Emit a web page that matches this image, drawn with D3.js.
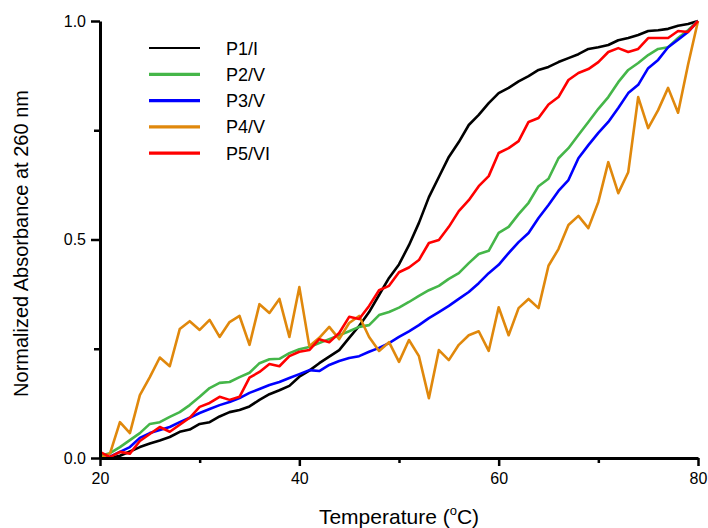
<!DOCTYPE html>
<html>
<head>
<meta charset="utf-8">
<script src="https://cdn.jsdelivr.net/npm/d3@7"></script>
<style>
  body { margin: 0; background: #fff; }
  svg { font-family: "Liberation Sans", Arial, sans-serif; }
</style>
</head>
<body>
<svg id="chart"></svg>
<script>
// temperatures (°C)
const temps = [20,21,22,23,24,25,26,27,28,29,30,31,32,33,34,35,36,37,38,39,40,
  41,42,43,44,45,46,47,48,49,50,51,52,53,54,55,56,57,58,59,60,
  61,62,63,64,65,66,67,68,69,70,71,72,73,74,75,76,77,78,79,80];

const p1 = [0.0,0.0,0.005,0.015,0.025,0.033,0.04,0.048,0.06,0.065,0.078,
  0.082,0.095,0.105,0.11,0.118,0.133,0.146,0.155,0.165,0.186,
  0.2,0.217,0.232,0.247,0.275,0.302,0.334,0.373,0.412,0.443,
  0.487,0.538,0.597,0.643,0.689,0.723,0.762,0.785,0.812,0.835,
  0.847,0.862,0.874,0.888,0.895,0.906,0.915,0.924,0.936,0.94,
  0.945,0.956,0.961,0.968,0.977,0.979,0.982,0.989,0.993,1.0];

const p2 = [0.005,0.011,0.025,0.041,0.057,0.078,0.082,0.094,0.105,0.121,0.14,
  0.16,0.172,0.174,0.185,0.195,0.217,0.226,0.227,0.24,0.249,
  0.254,0.263,0.272,0.281,0.29,0.3,0.304,0.327,0.334,0.344,
  0.357,0.371,0.384,0.394,0.41,0.423,0.446,0.467,0.474,0.515,
  0.529,0.558,0.584,0.622,0.639,0.686,0.709,0.739,0.769,0.799,
  0.826,0.86,0.888,0.904,0.922,0.936,0.94,0.961,0.979,1.0];

const p3 = [0.0,0.003,0.014,0.025,0.046,0.057,0.064,0.071,0.082,0.092,0.103,
  0.112,0.121,0.128,0.137,0.149,0.158,0.167,0.174,0.183,0.192,
  0.201,0.199,0.213,0.222,0.229,0.233,0.243,0.252,0.263,0.277,
  0.29,0.304,0.32,0.334,0.348,0.364,0.38,0.4,0.423,0.442,
  0.469,0.494,0.515,0.549,0.579,0.611,0.636,0.686,0.716,0.744,
  0.769,0.801,0.835,0.854,0.892,0.911,0.94,0.957,0.975,1.0];

const p4 = [0.0,0.01,0.082,0.057,0.144,0.185,0.23,0.21,0.295,0.313,0.293,
  0.316,0.277,0.311,0.325,0.259,0.352,0.332,0.364,0.277,0.391,
  0.256,0.275,0.3,0.272,0.309,0.325,0.277,0.245,0.265,0.22,
  0.27,0.233,0.137,0.247,0.224,0.259,0.281,0.29,0.245,0.345,
  0.281,0.343,0.364,0.343,0.44,0.478,0.533,0.554,0.526,0.586,
  0.677,0.606,0.654,0.826,0.755,0.796,0.847,0.79,0.9,1.0];

const p5 = [0.014,0.002,0.014,0.01,0.039,0.055,0.071,0.06,0.076,0.092,0.117,
  0.126,0.14,0.133,0.14,0.184,0.197,0.215,0.21,0.233,0.243,
  0.247,0.272,0.265,0.286,0.323,0.318,0.348,0.384,0.394,0.425,
  0.436,0.453,0.492,0.499,0.529,0.565,0.59,0.622,0.645,0.698,
  0.709,0.725,0.769,0.778,0.809,0.826,0.865,0.881,0.89,0.906,
  0.929,0.938,0.929,0.936,0.961,0.961,0.961,0.977,0.975,1.0];

const seriesNames = ["P1/I", "P2/V", "P3/V", "P4/V", "P5/VI"];
const seriesColors = ["#000000", "#45b649", "#0000ff", "#e0880c", "#ff0000"];
const seriesValues = [p1, p2, p3, p4, p5];

const xTicks = [20, 40, 60, 80];
const xMinorTicks = [30, 50, 70];
const yTicks = [0, 0.5, 1.0];
const yMinorTicks = [0.25, 0.75];

const width = 708, height = 528;
const margin = { top: 21, right: 10, bottom: 70, left: 100 };
const w = width - margin.left - margin.right;
const h = height - margin.top - margin.bottom;

const svg = d3.select('#chart')
  .attr('width', width)
  .attr('height', height);

const g = svg.append('g')
  .attr('transform', `translate(${margin.left},${margin.top})`);

const xScale = d3.scaleLinear().domain([20, 80]).range([0, w]);
const yScale = d3.scaleLinear().domain([0, 1]).range([h, 0]);

// data lines
const line = d3.line()
  .x((d, i) => xScale(temps[i]))
  .y(d => yScale(d))
  .curve(d3.curveLinear);

seriesValues.forEach((vals, k) => {
  g.append('path')
    .datum(vals)
    .attr('fill', 'none')
    .attr('stroke', seriesColors[k])
    .attr('stroke-width', 2.6)
    .attr('stroke-linejoin', 'round')
    .attr('d', line);
});

// minor ticks
g.append('g')
  .attr('transform', `translate(0,${h})`)
  .call(d3.axisBottom(xScale).tickValues(xMinorTicks).tickSize(5).tickFormat(''))
  .call(a => a.select('.domain').remove())
  .selectAll('line').attr('stroke-width', 2.5);

g.append('g')
  .call(d3.axisLeft(yScale).tickValues(yMinorTicks).tickSize(6).tickFormat(''))
  .call(a => a.select('.domain').remove())
  .selectAll('line').attr('stroke-width', 2.5);

// x-axis
const xAxis = g.append('g')
  .attr('transform', `translate(0,${h})`)
  .call(d3.axisBottom(xScale).tickValues(xTicks).tickSize(8).tickSizeOuter(0).tickPadding(7));
xAxis.select('.domain').attr('stroke-width', 3);
xAxis.selectAll('.tick line').attr('stroke-width', 2.5);
xAxis.selectAll('text').attr('font-size', 16).attr('fill', '#000')
  .style('font-family', '"Liberation Sans", Arial, sans-serif');

// y-axis
const yAxis = g.append('g')
  .call(d3.axisLeft(yScale).tickValues(yTicks).tickSize(9).tickSizeOuter(0).tickPadding(5)
    .tickFormat(d3.format('.1f')));
yAxis.select('.domain').attr('stroke-width', 3);
yAxis.selectAll('.tick line').attr('stroke-width', 2.5);
yAxis.selectAll('text').attr('font-size', 16).attr('fill', '#000')
  .style('font-family', '"Liberation Sans", Arial, sans-serif');

// axis titles
const xTitle = svg.append('text')
  .attr('x', margin.left + w / 2)
  .attr('y', 524)
  .attr('text-anchor', 'middle')
  .attr('font-size', 21);
xTitle.append('tspan').text('Temperature (');
xTitle.append('tspan').attr('font-size', 13).attr('dy', -9).text('o');
xTitle.append('tspan').attr('dy', 9).text('C)');

svg.append('text')
  .attr('transform', `translate(28,${margin.top + h / 2 + 4}) rotate(-90)`)
  .attr('text-anchor', 'middle')
  .attr('font-size', 20)
  .text('Normalized Absorbance at 260 nm');

// legend
const legend = svg.append('g').attr('transform', 'translate(149,48)');
seriesNames.forEach((name, k) => {
  const row = legend.append('g').attr('transform', `translate(0,${k * 26.3})`);
  row.append('line')
    .attr('x1', 0).attr('x2', 51)
    .attr('stroke', seriesColors[k])
    .attr('stroke-width', k === 0 ? 2.2 : 3.2);
  row.append('text')
    .attr('x', 77)
    .attr('y', 6.5)
    .attr('font-size', 18)
    .text(name);
});
</script>
</body>
</html>
